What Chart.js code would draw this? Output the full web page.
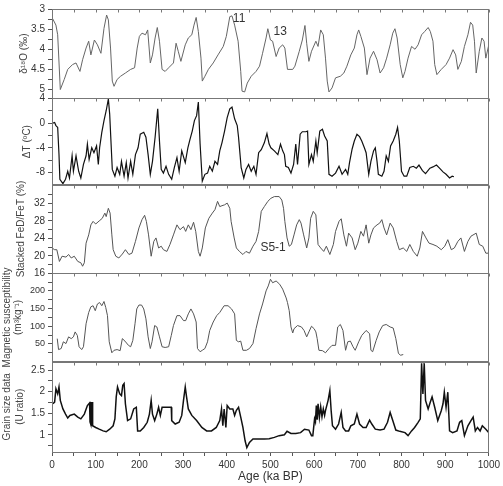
<!DOCTYPE html>
<html>
<head>
<meta charset="utf-8">
<script src="https://cdn.jsdelivr.net/npm/chart.js@4"></script>
<style>
  html, body { margin: 0; padding: 0; background: #fff; }
  #wrap { width: 503px; height: 486px; }
</style>
</head>
<body>
<div id="wrap"><canvas id="stack" width="503" height="486"></canvas></div>
<script>
// ----- shared age axis (ka BP) -----
const ageTicks = [0, 50, 100, 150, 200, 250, 300, 350, 400, 450, 500,
                  550, 600, 650, 700, 750, 800, 850, 900, 950, 1000];

// ----- panel 1: benthic d18O (permil, reversed) -----
const d18oAge = [0,9,13,19,28,36,47,55,64,70,
  78,84,89,97,104,112,119,125,129,134,
  138,142,149,157,168,180,189,195,200,206,
  214,219,225,230,236,241,246,252,259,267,
  278,284,289,295,305,312,320,325,330,335,
  341,344,350,358,369,380,392,399,407,412,
  418,426,432,435,441,447,456,467,475,482,
  490,494,500,505,513,520,528,533,539,551,
  556,566,573,579,583,588,594,604,609,615,
  621,626,630,634,641,649,660,668,675,684,
  692,698,702,707,715,721,728,736,744,751,
  759,766,774,780,785,790,797,803,808,815,
  823,831,838,846,853,861,866,872,876,881,
  891,902,910,918,924,929,937,944,952,958,
  963,967,971,978,984,989,993,1000];
const d18oVal = [3.21,3.4,3.64,5.0,4.75,4.5,4.38,4.34,4.55,4.26,
  3.97,3.8,4.14,3.77,3.89,4.1,3.48,3.15,3.27,3.97,
  4.79,4.92,4.75,4.67,4.59,4.5,4.46,3.97,3.68,3.6,
  3.64,3.52,4.34,4.14,3.72,3.46,3.8,4.5,4.55,4.46,
  4.34,3.85,4.05,4.3,3.89,3.72,3.64,3.4,3.21,3.56,
  4.22,4.79,4.67,4.5,4.34,4.14,3.93,3.68,3.19,3.17,
  3.4,3.8,4.55,5.04,5.06,4.84,4.67,4.55,4.42,4.1,
  3.72,3.49,3.77,3.8,4.18,3.97,3.89,3.97,4.5,4.5,
  4.42,4.05,3.77,3.41,3.85,4.3,4.05,3.8,3.93,3.52,
  3.64,4.22,4.79,5.06,4.96,4.71,4.67,4.59,4.42,4.14,
  3.97,3.64,3.52,3.68,3.97,4.63,4.22,4.05,4.26,4.59,
  4.46,4.22,3.89,3.6,3.49,3.72,4.38,4.71,4.55,4.22,
  3.93,4.0,3.89,3.64,3.56,3.46,3.56,3.8,4.38,4.63,
  4.5,4.38,4.22,4.01,4.14,4.5,4.3,3.93,3.64,3.33,
  3.4,3.8,4.59,4.05,3.72,3.8,4.22,3.88];
const d18oMajor = [3, 3.5, 4, 4.5, 5];
const d18oMinor = [3.25, 3.75, 4.25, 4.75];

// ----- panel 2: Antarctic temperature anomaly (deg C) -----
const dTAge = [0,6,9,13,16,18,25,31,36,40,
  46,49,55,61,66,72,78,81,85,91,
  96,102,106,109,114,119,124,129,132,138,
  144,149,155,159,165,170,174,180,185,191,
  197,202,210,215,220,225,230,236,242,246,
  250,255,261,267,274,280,286,291,297,305,
  311,316,321,326,331,335,339,344,350,356,
  361,367,373,379,384,389,395,401,407,412,
  418,424,427,433,439,444,450,456,462,467,
  473,479,486,492,497,501,509,517,523,528,
  532,535,541,547,553,558,562,568,573,581,
  585,588,594,598,604,607,613,619,624,630,
  634,641,649,657,664,672,677,681,687,692,
  698,704,709,715,719,725,730,736,740,744,
  747,755,760,765,770,775,781,787,791,795,
  800,806,812,819,827,834,840,848,855,865,
  872,880,887,895,902,910,916,920];
const dTVal = [-0.05,0.1,-0.4,-0.7,-5.1,-9.1,-9.8,-9.1,-7.8,-8.9,
  -5.3,-7.8,-5.3,-7.8,-8.9,-6.7,-5.3,-3.4,-5.9,-4.0,
  -4.8,-3.7,-6.7,-4.0,-1.5,0.4,2.0,3.9,1.5,-7.5,
  -8.6,-7.2,-8.3,-6.2,-8.6,-6.4,-8.9,-6.2,-8.3,-5.1,
  -4.0,-1.8,-1.5,-2.3,-5.1,-8.3,-6.2,-2.3,2.3,-2.9,
  -7.5,-8.1,-7.0,-8.3,-9.1,-7.2,-5.6,-7.8,-4.5,-6.4,
  -4.0,-2.6,-1.3,0.4,1.2,3.4,-3.4,-9.4,-8.3,-8.1,
  -7.0,-7.8,-6.2,-6.7,-4.5,-3.2,-1.3,0.9,2.3,2.6,
  0.7,-0.4,-2.3,-7.2,-8.9,-7.5,-6.7,-7.8,-7.0,-8.3,
  -4.8,-4.3,-3.2,-1.7,-3.4,-4.0,-4.5,-5.1,-3.4,-4.5,
  -5.1,-7.0,-7.2,-8.1,-6.7,-3.4,-6.7,-1.8,-1.4,-1.4,
  -1.3,-6.7,-5.1,-6.2,-2.9,-4.8,-1.3,-1.0,-2.1,-2.9,
  -8.3,-8.6,-8.1,-7.0,-8.3,-7.5,-8.3,-6.4,-4.2,-2.9,
  -1.8,-2.2,-2.9,-4.0,-4.8,-8.3,-6.2,-4.5,-4.0,-6.2,
  -8.3,-8.6,-7.8,-5.3,-6.2,-3.7,-2.9,-1.8,-0.7,-2.9,
  -7.8,-8.6,-8.6,-7.2,-7.0,-7.3,-6.8,-7.7,-8.2,-7.3,
  -7.1,-6.8,-7.3,-7.9,-8.3,-8.9,-8.6,-8.7];
const dTMajor = [-8, -4, 0, 4];
const dTMinor = [-6, -2, 2];

// ----- panel 3: stacked FeD/FeT (%) -----
const fedAge = [0,6,11,17,23,32,38,44,51,59,
  66,70,74,78,84,89,94,100,108,115,
  121,124,129,133,137,140,146,153,161,168,
  176,183,191,199,206,212,216,221,227,233,
  238,244,250,255,263,270,278,286,293,301,
  306,312,318,324,329,335,339,344,351,359,
  367,373,379,384,389,395,401,407,410,417,
  422,429,437,444,452,460,467,473,479,486,
  494,501,509,520,526,530,533,538,543,548,
  554,560,566,570,576,583,588,592,598,604,
  609,615,622,628,636,644,649,657,662,668,
  674,679,687,694,700,707,713,719,725,730,
  736,744,750,755,760,766,774,781,789,795,
  804,812,819,827,836,842,848,856,863,872,
  881,891,899,906,914,921,929,936,944,952,
  959,971,978,986,993,1000];
const fedVal = [21.8,21.4,21.4,18.7,19.9,19.7,20.3,19.5,19.9,18.7,
  18.4,17.6,18.4,22.9,24.8,27.1,27.9,27.3,28.0,28.6,
  29.8,29.0,30.9,29.8,24.8,21.4,19.9,19.5,20.4,21.4,
  20.3,20.6,23.3,26.4,28.3,29.3,27.9,24.8,19.9,23.3,
  24.1,21.8,22.2,21.4,21.0,22.6,24.8,27.1,26.0,26.7,
  25.6,27.1,26.0,27.7,25.6,21.0,19.9,21.8,26.4,28.6,
  29.8,30.6,32.5,31.3,31.5,31.7,32.1,30.9,27.9,24.1,
  21.8,21.0,20.3,21.0,20.6,22.2,23.3,25.6,30.2,31.3,
  32.5,33.2,33.6,33.6,32.8,30.9,27.9,24.1,22.2,22.6,
  24.8,27.1,28.3,27.5,24.8,21.8,24.1,28.6,30.2,29.4,
  22.6,21.8,21.0,22.2,20.3,22.6,25.6,27.9,28.5,24.8,
  22.2,25.2,24.1,21.4,22.9,25.6,24.5,27.1,22.9,24.8,
  26.4,27.1,27.5,28.3,26.4,24.8,27.5,26.4,23.3,21.4,
  21.8,21.0,22.6,21.0,19.9,21.8,25.6,24.1,22.9,22.6,
  22.2,21.4,22.2,23.7,21.4,21.8,23.3,24.1,21.0,23.3,
  24.5,25.2,22.6,22.2,20.6,20.6];
const fedMajor = [16, 20, 24, 28, 32];
const fedMinor = [18, 22, 26, 30, 34];

// ----- panel 4: magnetic susceptibility -----
const magAge = [12,15,21,26,32,38,44,49,53,58,
  62,68,72,78,84,89,94,99,104,109,
  114,119,123,127,131,137,142,149,156,161,
  167,175,180,185,190,194,199,205,210,215,
  220,225,229,235,240,246,252,259,267,273,
  278,286,293,301,306,312,318,324,330,333,
  339,344,350,356,361,369,377,384,394,403,
  411,418,422,427,432,437,445,452,460,467,
  475,482,490,495,500,505,513,521,528,536,
  539,543,547,551,554,562,571,577,583,588,
  594,600,604,607,611,619,626,634,641,649,
  654,660,666,672,677,683,689,694,702,709,
  719,727,730,734,742,749,757,765,774,781,
  787,793,798,804];
const magVal = [65,34,37,56,51,70,65,70,84,74,
  42,34,42,107,139,155,158,144,163,167,
  158,170,153,130,56,25,32,34,31,65,
  58,46,42,60,107,149,160,160,149,121,
  70,37,56,102,98,70,42,40,42,74,
  102,130,130,116,116,135,149,135,112,37,
  28,32,37,56,88,112,130,139,158,158,
  149,135,60,56,58,32,32,37,51,93,
  135,163,200,214,233,223,228,219,205,180,
  167,144,98,81,93,102,98,88,70,84,
  100,93,84,65,32,31,25,37,46,46,
  98,105,88,32,56,58,42,32,56,74,
  88,79,32,28,60,84,102,105,98,95,
  65,23,18,20];
const magMajor = [50, 100, 150, 200];
const magMinor = [25, 75, 125, 175, 225];

// ----- panel 5: grain size (U ratio) -----
const grainAge = [2,6,9,13,16,19,25,31,36,41,
  51,59,66,74,81,86,87,88,89,90,
  91,92,93,100,108,117,124,132,140,144,
  147,150,155,159,162,165,168,173,180,187,
  193,196,202,210,218,223,227,230,235,240,
  244,248,252,259,267,273,274,282,291,297,
  301,305,308,312,320,331,343,354,365,376,
  384,388,391,394,398,401,407,414,418,422,
  427,432,437,442,446,452,460,471,486,497,
  509,520,532,538,547,558,569,578,588,594,
  597,601,603,605,607,609,612,615,618,621,
  624,626,632,636,639,642,649,656,662,666,
  672,679,684,692,698,704,712,719,727,732,
  740,751,760,768,774,780,787,796,808,815,
  823,830,838,843,846,849,852,855,861,866,
  870,876,883,891,895,898,902,906,910,917,
  927,933,938,944,952,959,964,969,974,980,
  985,993,1000];
const grainVal = [1.72,1.76,2.07,1.95,2.11,1.8,1.6,1.48,1.39,1.45,
  1.48,1.41,1.37,1.48,1.68,1.74,1.3,1.76,1.25,1.76,
  1.2,1.76,1.21,1.17,1.13,1.09,1.07,1.13,1.21,1.37,
  1.88,2.11,1.95,1.91,2.15,2.19,1.72,1.33,1.37,1.6,
  1.64,1.09,1.09,1.17,1.29,1.48,1.8,1.48,1.33,1.48,
  1.64,1.45,1.64,1.64,1.64,1.64,1.33,1.25,1.29,1.45,
  1.8,2.11,1.88,1.6,1.45,1.33,1.17,1.09,1.09,1.17,
  1.33,1.6,1.21,1.6,1.17,1.68,1.6,1.6,1.45,1.57,
  1.64,1.41,1.17,0.86,0.70,0.82,0.9,0.9,0.9,0.91,
  0.94,0.98,1.0,1.08,1.03,1.03,1.05,1.13,1.11,0.98,
  0.98,1.37,1.3,1.68,1.35,1.72,1.4,1.65,1.42,1.6,
  1.45,1.56,1.8,2.03,1.56,1.21,1.13,1.25,1.52,1.17,
  1.09,1.09,1.21,1.25,1.48,1.25,1.17,1.17,1.34,1.25,
  1.13,1.11,1.13,1.29,1.52,1.33,1.11,1.08,1.05,0.98,
  1.09,1.17,1.29,1.37,2.66,1.95,2.66,1.8,1.6,1.76,
  1.88,1.64,1.33,1.56,1.72,1.99,1.64,1.99,1.09,1.05,
  1.09,1.29,1.33,0.98,1.21,1.33,1.41,1.09,1.17,1.09,
  1.21,1.13,1.05];
const grainMajor = [1, 1.5, 2, 2.5];
const grainMinor = [0.75, 1.25, 1.75, 2.25];

// stage labels written on the curves
const notes = [
  { text: '11', axis: 'yIso', age: 414, value: 3.24 },
  { text: '13', axis: 'yIso', age: 507, value: 3.57 },
  { text: 'S5-1', axis: 'yFe', age: 477, value: 21.9 }
];

const FONT = "'Liberation Sans', Arial, sans-serif";
Chart.defaults.font.family = FONT;

const toPoints = (ages, vals) => ages.map((a, i) => ({ x: a, y: vals[i] }));

// one stacked left axis per panel; higher weight sits higher up
function panelAxis(o) {
  const all = o.major.concat(o.minor).sort((a, b) => a - b);
  return {
    type: 'linear',
    position: 'left',
    stack: 'panels',
    stackWeight: o.h,
    weight: o.order,
    min: o.min,
    max: o.max,
    reverse: !!o.reverse,
    afterFit: s => { s.width = 52; },
    afterBuildTicks: s => { s.ticks = all.map(v => ({ value: v })); },
    ticks: {
      autoSkip: false,
      color: '#333',
      font: { size: o.fs || 10 },
      padding: 3,
      callback: v => (o.major.includes(v) ? String(v) : '')
    },
    grid: { drawOnChartArea: false, drawTicks: true, tickLength: 4, color: '#555' },
    border: { display: false },
    title: {
      display: true,
      text: o.title,
      color: '#444',
      font: { size: 10, lineHeight: o.lh || 1.2 },
      padding: { top: o.tp, bottom: 0 }
    }
  };
}

const panelIds = ['yIso', 'yDT', 'yFe', 'yMag', 'yGrain'];

const panelFrames = {
    id: 'panelFrames',
    afterDatasetsDraw(chart) {
        const { ctx, chartArea: a, scales } = chart;
        const xs = scales.x;
        ctx.save();
        ctx.strokeStyle = '#777';
        ctx.lineWidth = 1;
        panelIds.forEach(id => {
            const s = scales[id];
            const top = Math.round(s.top) + 0.5;
            ctx.strokeRect(Math.round(a.left) + 0.5, top, Math.round(a.width) - 1, Math.round(s.bottom - s.top));
            // age ticks hanging from the top edge of every panel
            xs.ticks.forEach(t => {
                const px = Math.round(xs.getPixelForValue(t.value)) + 0.5;
                ctx.beginPath();
                ctx.moveTo(px, top);
                ctx.lineTo(px, top + 3);
                ctx.stroke();
            });
        });
        ctx.fillStyle = '#333';
        ctx.font = '12px ' + FONT;
        ctx.textBaseline = 'middle';
        notes.forEach(n => {
            ctx.fillText(n.text, xs.getPixelForValue(n.age), scales[n.axis].getPixelForValue(n.value));
        });
        ctx.restore();
    }
};

const lineStyle = (color, width) => ({
    borderColor: color,
    borderWidth: width,
    pointRadius: 0,
    tension: 0,
    fill: false
});

new Chart(document.getElementById('stack').getContext('2d'), {
    type: 'line',
    data: {
        datasets: [
            { label: 'd18O', data: toPoints(d18oAge, d18oVal), yAxisID: 'yIso', ...lineStyle('#666', 1) },
            { label: 'dT', data: toPoints(dTAge, dTVal), yAxisID: 'yDT', ...lineStyle('#111', 1.2) },
            { label: 'FeD/FeT', data: toPoints(fedAge, fedVal), yAxisID: 'yFe', ...lineStyle('#555', 1) },
            { label: 'MS', data: toPoints(magAge, magVal), yAxisID: 'yMag', ...lineStyle('#555', 1) },
            { label: 'Grain', data: toPoints(grainAge, grainVal), yAxisID: 'yGrain', ...lineStyle('#111', 1.5) }
        ]
    },
    options: {
        responsive: false,
        animation: false,
        devicePixelRatio: 1,
        parsing: false,
        layout: { padding: { top: 5, right: 10, bottom: 0, left: 0 } },
        plugins: { legend: { display: false }, tooltip: { enabled: false } },
        scales: {
            x: {
                type: 'linear',
                position: 'bottom',
                min: 0,
                max: 1000,
                afterFit: s => { s.height = 34; },
                afterBuildTicks: s => { s.ticks = ageTicks.map(v => ({ value: v })); },
                ticks: {
                    autoSkip: false,
                    maxRotation: 0,
                    color: '#333',
                    font: { size: 10 },
                    padding: 3,
                    callback: v => (v % 100 === 0 ? String(v) : '')
                },
                grid: { drawOnChartArea: false, tickLength: 4, color: '#555' },
                border: { display: false },
                title: {
                    display: true,
                    text: 'Age (ka BP)',
                    color: '#333',
                    font: { size: 12 },
                    padding: { top: 0, bottom: 2 }
                }
            },
            yIso: panelAxis({ order: 5, h: 90, min: 3, max: 5.22, reverse: true,
                major: d18oMajor, minor: d18oMinor, title: 'δ¹⁸O (‰)', tp: 18 }),
            yDT: panelAxis({ order: 4, h: 87, min: -10, max: 4,
                major: dTMajor, minor: dTMinor, title: 'ΔT (ºC)', tp: 21 }),
            yFe: panelAxis({ order: 3, h: 89, min: 16, max: 36.3,
                major: fedMajor, minor: fedMinor, title: 'Stacked FeD/FeT (%)', tp: 15 }),
            yMag: panelAxis({ order: 2, h: 89, min: 0, max: 250, fs: 9,
                major: magMajor, minor: magMinor, title: ['Magnetic susceptibility', '(m³kg⁻¹)'], tp: 2, lh: 1.1 }),
            yGrain: panelAxis({ order: 1, h: 91, min: 0.6, max: 2.7,
                major: grainMajor, minor: grainMinor, title: ['Grain size data', '(U ratio)'], tp: 1, lh: 1.3 })
        }
    },
    plugins: [panelFrames]
});
</script>
</body>
</html>
